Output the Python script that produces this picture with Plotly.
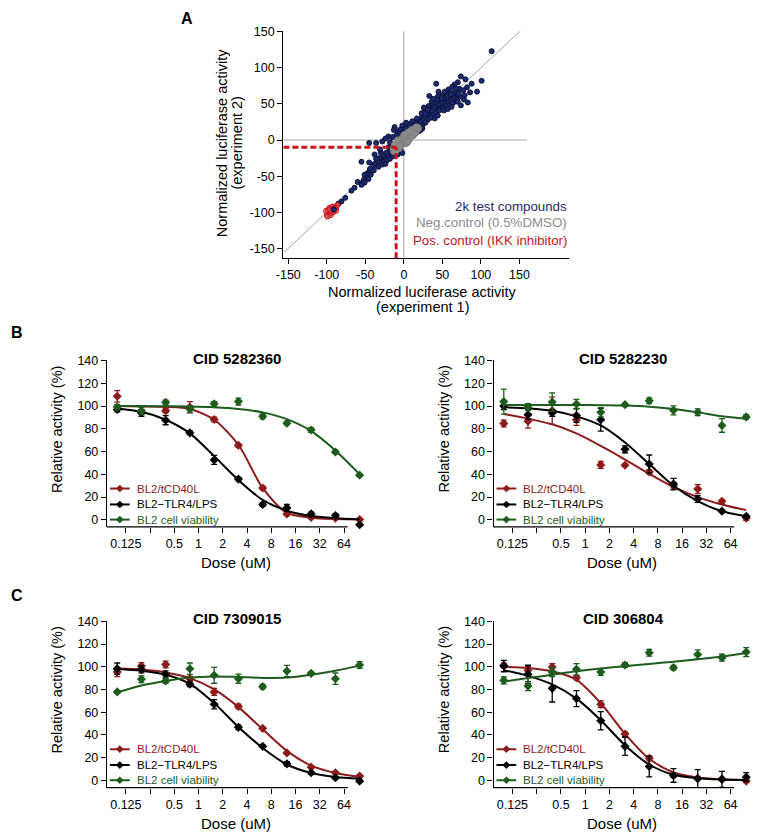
import math
import plotly.graph_objects as go

# ---------------- Panel A data (hand-read representative points) ----------------
NAVY_PTS = [
    (114, 123), (101, 82), (95, 67), (86, 66), (88, 78), (80, 84), (74, 88), (70, 80), (66, 77), (42, 78),
    (63, 74), (58, 70), (72, 71), (77, 69), (82, 73), (68, 67), (61, 66), (55, 64), (50, 62), (64, 61),
    (70, 62), (75, 60), (79, 62), (74, 48), (66, 53), (60, 57), (56, 55), (52, 58), (47, 55), (44, 60),
    (40, 52), (37, 48), (33, 61), (35, 44), (41, 46), (46, 49), (50, 51), (54, 50), (58, 52), (62, 55),
    (66, 58), (69, 56), (48, 44), (44, 42), (39, 40), (34, 38), (30, 36), (27, 40), (24, 33), (29, 31),
    (33, 33), (38, 36), (42, 38), (46, 41), (51, 45), (55, 47), (59, 48), (63, 51), (20, 28), (22, 25),
    (26, 28), (31, 28), (35, 31), (18, 20), (15, 24), (12, 20), (16, 16), (21, 18), (25, 22), (28, 24),
    (10, 16), (8, 22), (5, 19), (3, 24), (13, 12), (19, 12), (24, 16), (30, 40), (36, 53), (43, 56),
    (49, 58), (53, 67), (57, 61), (61, 63), (67, 71), (71, 64), (45, 67), (38, 57), (32, 47), (26, 45),
    (23, 37), (17, 30), (11, 26), (7, 13), (9, 6), (15, 9), (22, 14), (27, 32), (40, 30), (44, 34),
    (52, 41), (57, 43), (62, 46), (70, 53), (78, 56), (83, 52), (39, 44), (36, 41), (31, 42), (28, 36),
    (-12, 18), (-13, 14), (-8, 12), (-4, 15), (-2, 20), (0, 12), (2, 16), (-6, 8), (-10, 6), (-15, 4),
    (-20, 5), (-24, 2), (-45, -4), (-36, -4), (-28, -2), (-18, -3),
    (-6, -8), (-9, -12), (-12, -9), (-14, -15), (-17, -12), (-16, -20), (-19, -17), (-21, -22), (-23, -18),
    (-25, -25), (-27, -21), (-29, -27), (-30, -17), (-32, -25), (-26, -30), (-22, -28), (-18, -26),
    (-14, -22), (-11, -18), (-8, -20), (-34, -30), (-36, -26), (-38, -33), (-40, -36), (-33, -37),
    (-28, -34), (-24, -33), (-42, -43), (-39, -42), (-44, -40), (-46, -45), (-43, -48), (-48, -47),
    (-51, -48), (-49, -53), (-46, -54), (-52, -55), (-55, -60), (-55, -62), (-51, -59), (-45, -31),
    (-55, -30), (-38, -20), (-31, -13), (-20, -10), (-4, -14), (-2, -18), (-60, -58), (-64, -66),
    (-68, -70), (-76, -80), (-81, -85), (-85, -88),
]
GRAY_PTS = [
    (-13, -16), (-11, -12), (-10, -8), (-9, -13), (-8, -5), (-7, -10), (-6, -6), (-5, -2), (-4, -8),
    (-3, -4), (-2, 0), (-1, -5), (0, 2), (0, -3), (1, 0), (2, 4), (2, -2), (3, 1), (4, 6), (4, -1),
    (5, 3), (6, 8), (6, 1), (7, 5), (8, 10), (8, 3), (9, 7), (10, 12), (10, 5), (11, 9), (12, 14),
    (13, 8), (14, 12), (15, 16), (16, 11), (17, 15), (18, 18), (-12, -6), (-6, -12), (1, 5), (3, -5),
    (5, 10), (7, 0), (9, 13), (12, 6), (-3, 2), (-1, 3), (5, -3), (11, 15), (14, 9), (19, 16),
    (-14, -12), (-8, 0), (0, 7), (6, 11), (16, 18), (-10, -15), (-5, -9), (2, 8), (8, 12),
]
RED_PTS = [
    (-100, -104), (-99, -100), (-98, -97), (-97, -102), (-96, -99), (-95, -95), (-94, -101), (-93, -97),
    (-92, -94), (-91, -99), (-90, -96), (-89, -92), (-88, -95), (-87, -91), (-86, -90), (-101, -98),
    (-97, -94), (-95, -104), (-93, -92), (-92, -100), (-90, -93), (-99, -106), (-94, -98), (-96, -96),
    (-91, -95), (-88, -98),
]
NAVY_INSIDE_RED = [(-91, -96)]
A_TICKS = [-150, -100, -50, 0, 50, 100, 150]
A_TICKTEXT = ["-150", "-100", "-50", "0", "50", "100", "150"]
THRESHOLD = -10

# ---------------- Panels B / C data ----------------
DOSE = [0.0977, 0.195, 0.39, 0.78, 1.5625, 3.125, 6.25, 12.5, 25, 50, 100]
DOSE_TICKS = [0.125, 0.25, 0.5, 1, 2, 4, 8, 16, 32, 64]
DOSE_TICKTEXT = ["0.125", "", "0.5", "1", "2", "4", "8", "16", "32", "64"]
Y_TICKS = [0, 20, 40, 60, 80, 100, 120, 140]
SERIES_NAMES = ["BL2/tCD40L", "BL2\u2212TLR4/LPS", "BL2 cell viability"]
TITLES = ["CID 5282360", "CID 5282230", "CID 7309015", "CID 306804"]

# CID 5282360
P1_RED = [108.6, 95, 96, 99, 88.2, 65.5, 28, 5.2, 2, 1.5, 0.3]
P1_RED_ERR = [5, 2, 2, 5, 2, 1.5, 1.5, 1.5, 1, 1, 1]
P1_RED_FIT = [100, 99.7, 99.3, 97.5, 88, 66, 28, 6, 1.8, 0.6, 0.2]
P1_BLK = [97, 94, 87.6, 76.5, 52.7, 35.8, 13.4, 10.5, 5.2, 3.8, -4.4]
P1_BLK_ERR = [2, 3, 4, 1.5, 4, 1.5, 1.5, 3, 1.5, 1.5, 1]
P1_BLK_FIT = [98, 95, 88, 76, 56, 35, 17.5, 8, 3.3, 1.4, 0.5]
P1_GRN = [99.2, 95.7, 103.3, 97.5, 102, 104, 91, 85, 79, 59.7, 39.3]
P1_GRN_ERR = [2, 3, 2, 3, 2, 3, 2, 1.5, 2, 1.5, 1]
P1_GRN_FIT = [100, 100, 99.9, 99.7, 99, 97.5, 94.5, 88.5, 78, 61, 40]

# CID 5282230
P2_RED = [84.7, 86.7, 96, 88, 48.3, 48, 42.2, 30, 27, 16.3, 1.5]
P2_RED_ERR = [3, 6, 12, 5, 3, 1, 2, 3, 4, 1.5, 2]
P2_RED_FIT = [93, 89, 84, 76, 65, 53, 40.5, 29, 20, 13.5, 8.5]
P2_BLK = [100, 92.5, 94, 91.7, 88, 62, 49, 31.4, 18.3, 7.6, 3]
P2_BLK_ERR = [3, 4, 3, 6, 10, 3, 8, 5, 3, 1, 1]
P2_BLK_FIT = [99, 98, 96, 91, 83, 68, 49, 30, 16.5, 7.5, 3.2]
P2_GRN = [104, 99.2, 103.6, 101.9, 94.6, 101.3, 104.8, 96.3, 94.6, 83, 90.5]
P2_GRN_ERR = [11, 3, 8, 4, 4, 1, 2.5, 4, 3, 6, 2]
P2_GRN_FIT = [101, 101, 101, 101, 100.8, 100.5, 99.5, 97.5, 94.5, 91, 88.8]

# CID 7309015
P3_RED = [95.4, 100.6, 102, 89.5, 77.9, 65, 45.8, 24.2, 11.7, 6.7, 3.8]
P3_RED_ERR = [4, 3, 3, 2, 3, 2, 1, 1, 1, 1, 1]
P3_RED_FIT = [98.5, 97.5, 95, 90, 80, 64.5, 45, 26, 13, 6.5, 3]
P3_BLK = [98.3, 97.7, 93.3, 84.6, 67, 46.7, 30, 14.6, 6.7, 2.3, -0.6]
P3_BLK_ERR = [5, 3, 3, 2, 4, 2, 1, 2, 1, 1, 1]
P3_BLK_FIT = [98, 96.5, 93, 85, 68, 47, 28.5, 14, 6.5, 3, 1.5]
P3_GRN = [77.9, 89, 87.5, 98.3, 92.5, 89.5, 82.5, 96.2, 94.2, 89.5, 101.5]
P3_GRN_ERR = [1, 3, 2, 5, 7, 4, 2, 5, 1, 5, 3]
P3_GRN_FIT = [77.5, 83.5, 87.5, 90.5, 91.5, 91, 90.2, 90.5, 93, 96.5, 101]

# CID 306804
P4_RED = [101.2, 97, 99.7, 90.4, 67, 40.8, 19.5, 4.4, 2, 1.5, -0.6]
P4_RED_ERR = [2, 3, 3, 2, 3, 2, 2, 2, 1, 1, 1]
P4_RED_FIT = [100, 99, 96, 88.5, 68, 41, 19, 7, 2.5, 1, 0.3]
P4_BLK = [100.6, 93.3, 81, 72, 52.5, 30, 12.2, 4.4, 1.5, 0.9, 2.9]
P4_BLK_ERR = [5, 8, 12, 7, 8, 8, 9, 6, 8, 7, 4]
P4_BLK_FIT = [97, 92, 84.5, 72, 53, 31, 14, 5, 2, 0.8, 0.3]
P4_GRN = [88, 83, 95.4, 97.7, 95.4, 101.5, 112.3, 99.2, 110.8, 108, 112.9]
P4_GRN_ERR = [3, 4, 4, 5, 3, 2, 3, 2, 4, 3, 4]
P4_GRN_FIT = [87, 90, 93, 96, 98.5, 100.5, 102.5, 104.5, 106.5, 109, 112]

PANELS = [
    (P1_RED, P1_RED_ERR, P1_RED_FIT, P1_BLK, P1_BLK_ERR, P1_BLK_FIT, P1_GRN, P1_GRN_ERR, P1_GRN_FIT),
    (P2_RED, P2_RED_ERR, P2_RED_FIT, P2_BLK, P2_BLK_ERR, P2_BLK_FIT, P2_GRN, P2_GRN_ERR, P2_GRN_FIT),
    (P3_RED, P3_RED_ERR, P3_RED_FIT, P3_BLK, P3_BLK_ERR, P3_BLK_FIT, P3_GRN, P3_GRN_ERR, P3_GRN_FIT),
    (P4_RED, P4_RED_ERR, P4_RED_FIT, P4_BLK, P4_BLK_ERR, P4_BLK_FIT, P4_GRN, P4_GRN_ERR, P4_GRN_FIT),
]

# ---------------- styling ----------------
W, H = 758, 840
FONT = "Liberation Sans, Arial, sans-serif"
C_RED = "#8e1b1b"
C_BLK = "#000000"
C_GRN = "#1e5c1e"
SERIES_COLORS = [C_RED, C_BLK, C_GRN]
NAVY = "#1d2b6e"
GRAYC = "#8c8c8c"
REDA = "#c8141e"


def fx(p):
    return p / W


def fy(p):
    return 1 - p / H


fig = go.Figure()

# ---------------- Panel A ----------------
fig.add_trace(go.Scatter(
    x=[p[0] for p in NAVY_PTS], y=[p[1] for p in NAVY_PTS], mode="markers",
    marker=dict(size=5, color=NAVY, line=dict(color="#0a1238", width=1)),
    xaxis="x", yaxis="y", showlegend=False, hoverinfo="skip"))
fig.add_trace(go.Scatter(
    x=[p[0] for p in GRAY_PTS], y=[p[1] for p in GRAY_PTS], mode="markers",
    marker=dict(size=6, color=GRAYC, line=dict(color="#808080", width=1)),
    xaxis="x", yaxis="y", showlegend=False, hoverinfo="skip"))
fig.add_trace(go.Scatter(
    x=[p[0] for p in RED_PTS], y=[p[1] for p in RED_PTS], mode="markers",
    marker=dict(size=5, color="rgba(225,80,80,0.6)", line=dict(color=REDA, width=1)),
    xaxis="x", yaxis="y", showlegend=False, hoverinfo="skip"))
fig.add_trace(go.Scatter(
    x=[p[0] for p in NAVY_INSIDE_RED], y=[p[1] for p in NAVY_INSIDE_RED], mode="markers",
    marker=dict(size=5, color=NAVY, line=dict(color="#0a1238", width=1)),
    xaxis="x", yaxis="y", showlegend=False, hoverinfo="skip"))

A_XR = [-156.4, 214]
A_YR = [-163.5, 150.5]
axis_font = dict(family=FONT, size=12.5, color="black")
fig.update_layout(
    xaxis=dict(domain=[fx(278.3), fx(566.7)], range=A_XR, anchor="y", showline=True,
               linecolor="black", linewidth=1.3, ticks="outside", ticklen=5, tickwidth=1.2,
               tickcolor="black", tickvals=A_TICKS, ticktext=A_TICKTEXT, showgrid=False,
               zeroline=False, tickfont=axis_font),
    yaxis=dict(domain=[fy(254), fy(25.5)], range=A_YR, anchor="x", showline=True,
               linecolor="black", linewidth=1.3, ticks="outside", ticklen=5, tickwidth=1.2,
               tickcolor="black", tickvals=A_TICKS, ticktext=A_TICKTEXT, showgrid=False,
               zeroline=False, tickfont=axis_font),
)

shapes = []
# reference lines in panel A
shapes.append(dict(type="line", xref="x", yref="y", x0=0, x1=0, y0=A_YR[0], y1=153,
                   line=dict(color="#a6a6a6", width=1), layer="below"))
shapes.append(dict(type="line", xref="x", yref="y", x0=A_XR[0], x1=160, y0=0, y1=0,
                   line=dict(color="#a6a6a6", width=1), layer="below"))
shapes.append(dict(type="line", xref="x", yref="y", x0=-155, x1=152, y0=-155, y1=152,
                   line=dict(color="#a6a6a6", width=1), layer="below"))
shapes.append(dict(type="line", xref="x", yref="y", x0=A_XR[0], x1=THRESHOLD, y0=THRESHOLD, y1=THRESHOLD,
                   line=dict(color=REDA, width=3, dash="6px,3px")))
shapes.append(dict(type="line", xref="x", yref="y", x0=THRESHOLD, x1=THRESHOLD, y0=A_YR[0], y1=THRESHOLD,
                   line=dict(color=REDA, width=3, dash="6px,3px")))

annotations = []


def ann(text, x, y, size, color="black", bold=False, angle=0, xanchor="center", yanchor="middle",
        xref="paper", yref="paper"):
    if bold:
        text = "<b>" + text + "</b>"
    annotations.append(dict(text=text, x=x, y=y, xref=xref, yref=yref, showarrow=False,
                            textangle=angle, xanchor=xanchor, yanchor=yanchor,
                            font=dict(family=FONT, size=size, color=color)))


ann("A", fx(181), fy(13), 16, bold=True)
ann("B", fx(9), fy(329), 16, bold=True)
ann("C", fx(9), fy(594), 16, bold=True)

ann("Normalized luciferase activity", fx(216.5), fy(138), 14.5, angle=-90)
ann("(experiment 2)", fx(231), fy(138), 14.5, angle=-90)
ann("Normalized luciferase activity", fx(419), fy(288), 14.5)
ann("(experiment 1)", fx(419), fy(303), 14.5)

ann("2k test compounds", A_XR[1], -92, 13.3, color=NAVY, xanchor="right", xref="x", yref="y")
ann("Neg.control (0.5%DMSO)", A_XR[1], -114, 13.3, color=GRAYC, xanchor="right", xref="x", yref="y")
ann("Pos. control (IKK inhibitor)", A_XR[1], -139.5, 13.3, color=REDA, xanchor="right", xref="x", yref="y")

# ---------------- Panels B / C ----------------
LOG_LEFT = math.log10(2 ** -3.78)
LOG_RIGHT = math.log10(2 ** 7.0)
AXIS_END_FRAC = (6.15 + 3.78) / (7.0 + 3.78)
Y_RANGE = [-6.3, 140.5]
PX_PER_UNIT = 1.145
PLOT_W = (7.0 + 3.78) * 24.5

# (left px of y-axis, y px of value 0)
POS = [(100, 517.5), (490.7, 517.5), (100, 780), (490.7, 780)]

for i, (pdata, (left, zero)) in enumerate(zip(PANELS, POS)):
    k = i + 2
    xa, ya = "x%d" % k, "y%d" % k
    top = zero - Y_RANGE[1] * PX_PER_UNIT
    bottom = zero - Y_RANGE[0] * PX_PER_UNIT
    fig.layout["xaxis%d" % k] = dict(
        domain=[fx(left), fx(left + PLOT_W)], range=[LOG_LEFT, LOG_RIGHT], type="log", anchor=ya,
        showline=False, ticks="outside", ticklen=5, tickwidth=1.2, tickcolor="black",
        tickvals=DOSE_TICKS, ticktext=DOSE_TICKTEXT, showgrid=False, zeroline=False,
        tickfont=axis_font)
    fig.layout["yaxis%d" % k] = dict(
        domain=[fy(bottom), fy(top)], range=Y_RANGE, anchor=xa, showline=True, linecolor="black",
        linewidth=1.3, ticks="outside", ticklen=5, tickwidth=1.2, tickcolor="black",
        tickvals=Y_TICKS, showgrid=False, zeroline=False, tickfont=axis_font)
    # x axis line (stops before the last dose, as in the original)
    shapes.append(dict(type="line", xref="%s domain" % xa, yref="%s domain" % ya, x0=0, x1=AXIS_END_FRAC,
                       y0=0, y1=0, line=dict(color="black", width=1.3)))

    for s in range(3):
        vals, errs, fit = pdata[3 * s], pdata[3 * s + 1], pdata[3 * s + 2]
        col = SERIES_COLORS[s]
        fig.add_trace(go.Scatter(x=DOSE, y=fit, mode="lines", xaxis=xa, yaxis=ya,
                                 line=dict(color=col, width=2, shape="spline", smoothing=0.8),
                                 showlegend=False, hoverinfo="skip"))
        fig.add_trace(go.Scatter(x=DOSE, y=vals, mode="markers", xaxis=xa, yaxis=ya,
                                 marker=dict(symbol="diamond", size=7, color=col),
                                 error_y=dict(type="data", array=errs, color=col, thickness=1.3, width=3),
                                 cliponaxis=False, showlegend=False, hoverinfo="skip"))

    # legend (inside, lower left)
    ly = [27.5, 13.5, 0.2]
    hw = 3.6 / PLOT_W
    hh = 3.6 / PX_PER_UNIT
    for s in range(3):
        col = SERIES_COLORS[s]
        shapes.append(dict(type="line", xref="%s domain" % xa, yref=ya, x0=3 / PLOT_W, x1=23 / PLOT_W,
                           y0=ly[s], y1=ly[s], line=dict(color=col, width=2)))
        cx = 13 / PLOT_W
        path = "M %f,%f L %f,%f L %f,%f L %f,%f Z" % (cx - hw, ly[s], cx, ly[s] + hh, cx + hw, ly[s],
                                                      cx, ly[s] - hh)
        shapes.append(dict(type="path", xref="%s domain" % xa, yref=ya, path=path,
                           fillcolor=col, line=dict(color=col, width=0.5)))
        annotations.append(dict(text=SERIES_NAMES[s], x=28 / PLOT_W, y=ly[s], xref="%s domain" % xa, yref=ya,
                                showarrow=False, xanchor="left", yanchor="middle",
                                font=dict(family=FONT, size=11.5, color=col)))

    # titles
    ann(TITLES[i], fx(left + 131), fy(top - 2), 15, bold=True)
    ann("Dose (uM)", fx(left + 130), fy(zero + 43), 15)
    ann("Relative activity (%)", fx(left - 50), fy(zero - 91), 14.5, angle=-90)

fig.update_layout(
    width=W, height=H, margin=dict(l=0, r=0, t=0, b=0),
    paper_bgcolor="white", plot_bgcolor="white",
    shapes=shapes, annotations=annotations, showlegend=False,
    font=dict(family=FONT, size=12.5, color="black"),
)

fig.write_html("out.html", config={"displayModeBar": False},
               post_script="document.body.style.margin='0';")
